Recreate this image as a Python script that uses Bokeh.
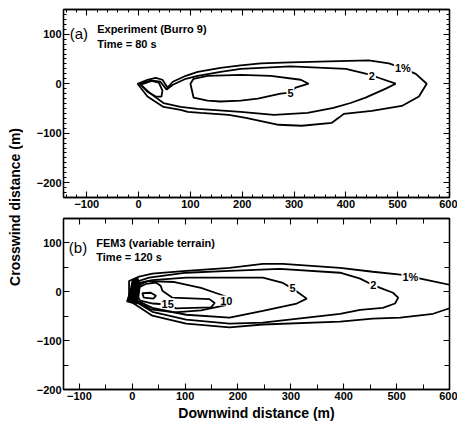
import numpy as np
from bokeh.plotting import figure
from bokeh.core.properties import value
from bokeh.models import (ColumnDataSource, Label, LinearAxis,
                          SingleIntervalTicker, Range1d, Div, CustomJSTickFormatter)
from bokeh.layouts import column, row
from bokeh.embed import file_html
from bokeh.resources import INLINE

FONT = "Liberation Sans"

# ---------------- data: panel (a) Experiment (Burro 9), t = 80 s ----------------
a_c1_x = [-2, 17, 33, 46, 56, 66, 91, 114, 158, 197, 236, 293, 367, 444, 483, 508, 535, 556,
          541, 508, 450, 396, 386, 373, 315, 270, 207, 174, 120, 95, 81, 48, 17]
a_c1_y = [0, 8, 12, 8, -8, 4, 16, 24, 32, 37, 41, 43, 45, 47, 41, 32, 20, 0,
          -26, -45, -55, -61, -69, -79, -85, -83, -69, -63, -59, -57, -53, -47, -26]
a_c2_x = [4, 27, 42, 54, 66, 91, 114, 158, 197, 293, 400, 448, 463, 496, 477, 438, 409, 376,
          326, 261, 197, 114, 81, 48, 23]
a_c2_y = [-2, 6, 4, -12, -2, 10, 16, 24, 30, 35, 30, 18, 12, 0, -10, -28, -39, -49,
          -59, -63, -57, -51, -47, -39, -20]
a_c5_x = [100, 106, 133, 197, 255, 313, 328, 303, 293, 274, 230, 197, 158, 133, 106]
a_c5_y = [0, 10, 16, 18, 16, 8, 0, -8, -18, -20, -30, -34, -36, -34, -28]
a_src_x = [2, 23, 39, 46, 44, 33, 17]
a_src_y = [0, 6, 2, -14, -26, -26, -16]
a_lab_x = [510, 450, 293]
a_lab_y = [31, 16, -18]
a_lab_t = ["1%", "2", "5"]

# ---------------- data: panel (b) FEM3 (variable terrain), t = 120 s ----------------
b_c1_x = [-6, 13, 38, 102, 184, 247, 285, 393, 455, 507, 526, 545, 602, 640,
          640, 602, 569, 507, 455, 393, 247, 184, 102, 38, 13, -6]
b_c1_y = [22, 31, 37, 43, 49, 57, 57, 49, 41, 35, 31, 27, 14, 6,
          -27, -33, -45, -53, -55, -61, -67, -73, -65, -49, -31, -18]
b_c2_x = [0, 32, 102, 184, 279, 393, 431, 455, 469, 493, 503, 497, 474, 431, 393, 247,
          184, 102, 38, 9]
b_c2_y = [18, 29, 39, 43, 47, 39, 27, 14, 8, -2, -12, -24, -33, -37, -45, -63,
          -65, -57, -41, -22]
b_c5_x = [4, 38, 102, 184, 247, 285, 304, 317, 330, 311, 247, 184, 102, 38, 9]
b_c5_y = [16, 24, 29, 29, 29, 18, 6, -4, -14, -24, -39, -53, -47, -33, -18]
b_c10_x = [5, 30, 80, 130, 165, 190, 175, 130, 80, 35, 8]
b_c10_y = [10, 22, 20, 8, -5, -15, -28, -38, -42, -36, -20]
b_c15_x = [10, 26, 45, 54, 57, 76, 146, 156, 149, 83, 67, 39, 15, 8]
b_c15_y = [8, 16, 19, 12, 2, -12, -15, -23, -32, -34, -26, -24, -18, -5]
b_c20_x = [19, 35, 45, 40, 22]
b_c20_y = [-3, -2, -8, -14, -12]
b_src_x = [-10, -3, 0, 10, 15, 12, 8]
b_src_y = [-20, 5, 22, 28, 15, -10, -25]
b_lab_x = [526, 456, 303, 178, 67]
b_lab_y = [31, 14, 7, -18, -24]
b_lab_t = ["1%", "2", "5", "10", "15"]

# ---------------- helpers ----------------
def make_fig(xr, yr, w, h, bl, br, bt, bb):
    p = figure(x_range=Range1d(*xr), y_range=Range1d(*yr), width=w, height=h,
               min_border_left=bl, min_border_right=br, min_border_top=bt, min_border_bottom=bb,
               output_backend="svg", toolbar_location=None, tools="")
    p.grid.visible = False
    p.outline_line_color = "black"
    p.outline_line_width = 1.3
    p.background_fill_color = "white"
    p.border_fill_color = "white"
    return p


def style_axis(ax, ticker, major_in, minor_in, show_labels=True):
    ax.ticker = ticker
    ax.axis_line_color = "black"
    ax.axis_line_width = 1.3
    ax.major_tick_in = major_in
    ax.major_tick_out = 0
    ax.minor_tick_in = minor_in
    ax.minor_tick_out = 0
    ax.major_tick_line_color = "black"
    ax.minor_tick_line_color = "black"
    ax.major_tick_line_width = 1.1
    ax.minor_tick_line_width = 1
    ax.major_label_text_font = FONT
    ax.major_label_text_font_style = "bold"
    ax.major_label_text_color = "black"
    if show_labels:
        ax.major_label_text_font_size = "11px"
        ax.major_label_standoff = 2
    else:
        ax.formatter = CustomJSTickFormatter(code="return ''")
        ax.major_label_text_font_size = "1px"
        ax.major_label_standoff = 0


def add_contours(p, xs_list, ys_list):
    for xs, ys in zip(xs_list, ys_list):
        p.patch(xs, ys, fill_color=None, line_color="black", line_width=1.8)


def add_labels(p, lx, ly, lt):
    src = ColumnDataSource(dict(x=lx, y=ly, t=lt))
    p.text(x="x", y="y", text="t", source=src, text_align="center",
           text_baseline="middle", text_font=value(FONT), text_font_style="bold",
           text_font_size="11px", text_color="black",
           background_fill_color="white", padding=1)


def add_title(p, tag, line1, line2, xtag, xtxt, y1, y2):
    p.add_layout(Label(x=xtag, y=(y1 + y2) / 2 + 6, text=tag, text_font=FONT,
                       text_font_size="15px", text_baseline="middle", text_color="black"))
    p.add_layout(Label(x=xtxt, y=y1, text=line1, text_font=FONT, text_font_style="bold",
                       text_font_size="11px", text_baseline="middle", text_color="black"))
    p.add_layout(Label(x=xtxt, y=y2, text=line2, text_font=FONT, text_font_style="bold",
                       text_font_size="11px", text_baseline="middle", text_color="black"))


# ---------------- panel (a) ----------------
pa = make_fig((-145, 600), (-230, 150), 432, 213, 38, 8, 9, 16)
style_axis(pa.xaxis[0], SingleIntervalTicker(interval=100, num_minor_ticks=5), 6, 3)
style_axis(pa.yaxis[0], SingleIntervalTicker(interval=100, num_minor_ticks=10), 6, 3)
top_a = LinearAxis()
right_a = LinearAxis()
style_axis(top_a, SingleIntervalTicker(interval=100, num_minor_ticks=5), 6, 3, False)
style_axis(right_a, SingleIntervalTicker(interval=100, num_minor_ticks=10), 6, 3, False)
pa.add_layout(top_a, "above")
pa.add_layout(right_a, "right")
add_contours(pa, [a_c1_x, a_c2_x, a_c5_x, a_src_x], [a_c1_y, a_c2_y, a_c5_y, a_src_y])
add_labels(pa, a_lab_x, a_lab_y, a_lab_t)
add_title(pa, "(a)", "Experiment (Burro 9)", "Time = 80 s", -133, -80, 110, 80)

# ---------------- panel (b) ----------------
pb = make_fig((-130, 600), (-200, 150), 432, 210, 38, 8, 5, 34)
style_axis(pb.xaxis[0], SingleIntervalTicker(interval=100, num_minor_ticks=2), 6, 5)
style_axis(pb.yaxis[0], SingleIntervalTicker(interval=100, num_minor_ticks=2), 6, 5)
pb.xaxis[0].axis_label = "Downwind distance (m)"
pb.xaxis[0].axis_label_text_font = FONT
pb.xaxis[0].axis_label_text_font_style = "bold"
pb.xaxis[0].axis_label_text_font_size = "14px"
pb.xaxis[0].axis_label_text_color = "black"
pb.xaxis[0].axis_label_standoff = 2
top_b = LinearAxis()
right_b = LinearAxis()
style_axis(top_b, SingleIntervalTicker(interval=100, num_minor_ticks=2), 6, 5, False)
style_axis(right_b, SingleIntervalTicker(interval=100, num_minor_ticks=2), 6, 5, False)
pb.add_layout(top_b, "above")
pb.add_layout(right_b, "right")
pb.patch(b_src_x, b_src_y, fill_color="black", line_color="black", line_width=1.5)
add_contours(pb, [b_c1_x, b_c2_x, b_c5_x, b_c10_x, b_c15_x, b_c20_x],
             [b_c1_y, b_c2_y, b_c5_y, b_c10_y, b_c15_y, b_c20_y])
add_labels(pb, b_lab_x, b_lab_y, b_lab_t)
add_title(pb, "(b)", "FEM3 (variable terrain)", "Time = 120 s", -120, -68, 100, 71)

# ---------------- shared y label ----------------
ylab = Div(text=("<div style=\"writing-mode:vertical-rl; transform:rotate(180deg); "
                 "font-family:'Liberation Sans'; font-weight:bold; font-size:14px; "
                 "white-space:nowrap; margin-top:128px; margin-left:5px; color:black;\">"
                 "Crosswind distance (m)</div>"),
           width=25, height=423, margin=0)

layout = row(ylab, column(pa, pb))

open("out.html", "w").write(file_html(layout, INLINE))
